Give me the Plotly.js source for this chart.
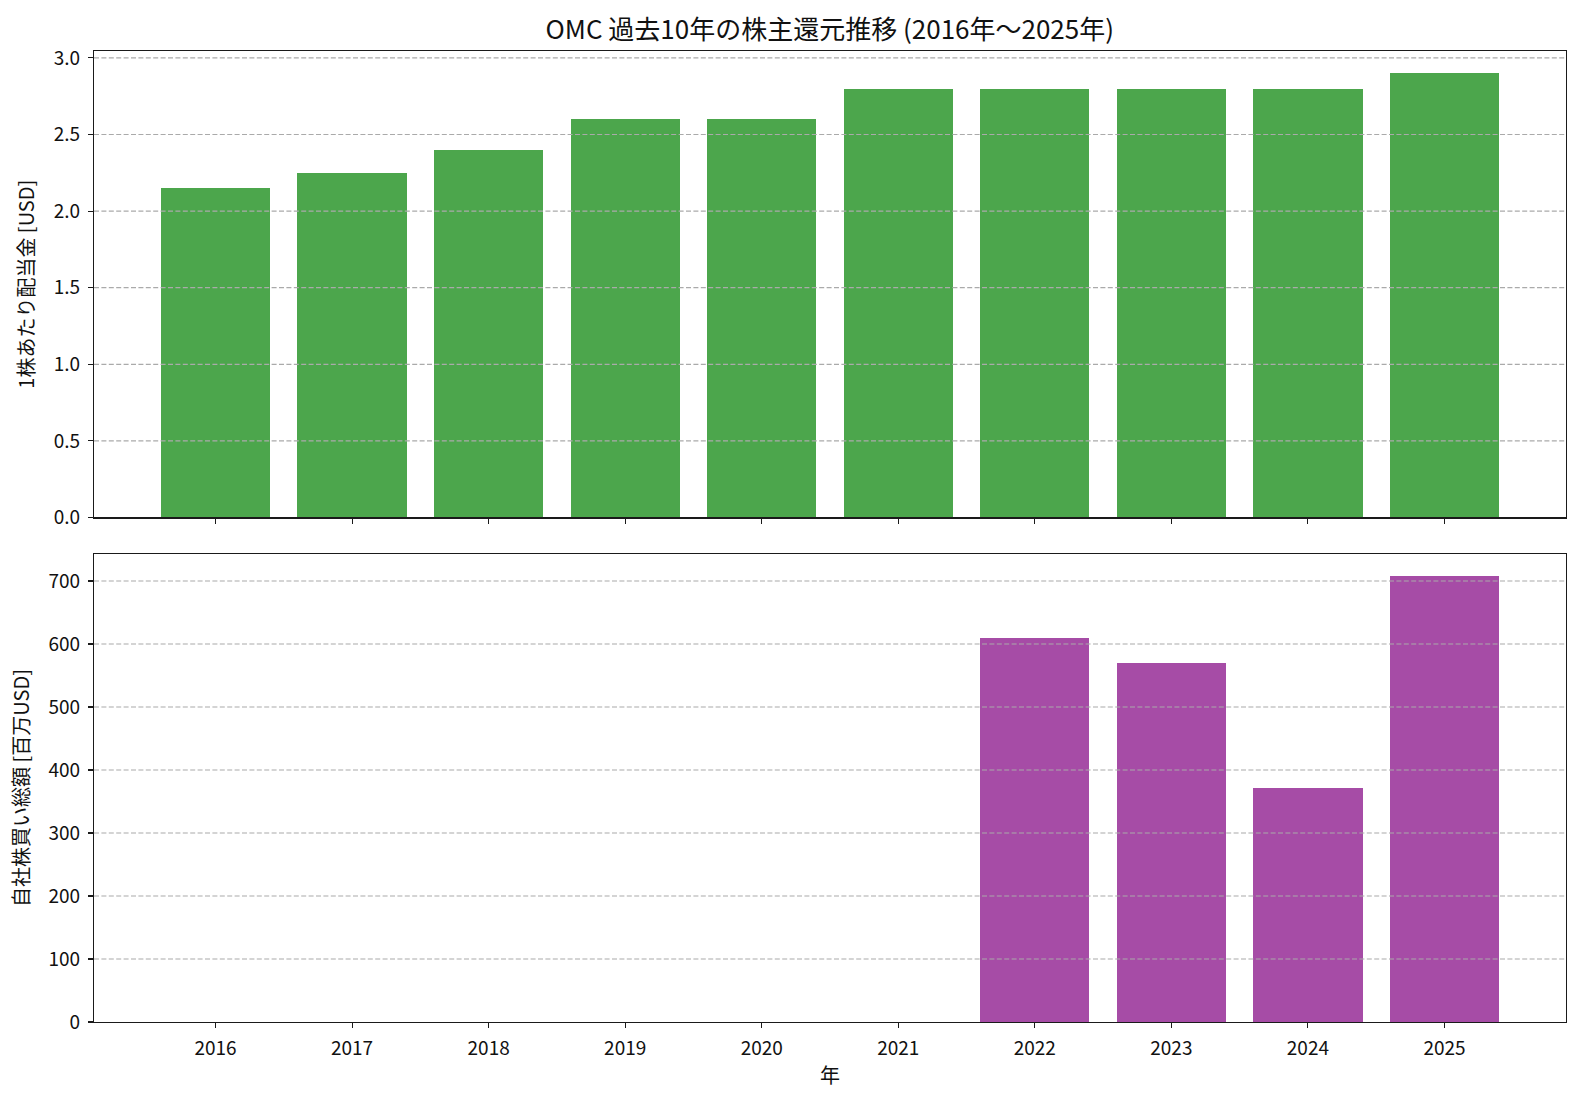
<!DOCTYPE html>
<html>
<head>
<meta charset="utf-8">
<script src="https://cdn.plot.ly/plotly-3.0.1.min.js"></script>
<style>html,body{margin:0;padding:0;background:#fff;}#chart{width:1582px;height:1102px;}</style>
</head>
<body>
<div id="chart"></div>
<script>
// Data
const years = ['2016','2017','2018','2019','2020','2021','2022','2023','2024','2025'];
const dividendPerShare = [2.15, 2.25, 2.40, 2.60, 2.60, 2.80, 2.80, 2.80, 2.80, 2.90];
const buybackTotal = [0, 0, 0, 0, 0, 0, 610, 570, 371, 707.5];
const divTicks = [0, 0.5, 1.0, 1.5, 2.0, 2.5, 3.0];
const buyTicks = [0, 100, 200, 300, 400, 500, 600, 700];

const FONT = '"Noto Sans CJK JP", "Noto Sans", sans-serif';

const traces = [
  {type:'bar', x: years, y: dividendPerShare, xaxis:'x', yaxis:'y',
   marker:{color:'rgba(0,128,0,0.7)'}, width:0.8, hoverinfo:'x+y'},
  {type:'bar', x: years, y: buybackTotal, xaxis:'x2', yaxis:'y2',
   marker:{color:'rgba(128,0,128,0.7)'}, width:0.8, hoverinfo:'x+y'}
];

function gridShapes(ticks, yref, xref){
  return ticks.filter(v => v !== 0).map(v => ({
    type:'line', xref: xref + ' domain', yref: yref, x0:0, x1:1, y0:v, y1:v,
    line:{color:'#aaaaaa', width:1.2, dash:'5px,2.4px'}, layer:'above'
  }));
}

const divMax = Math.max(...dividendPerShare) * 1.05;
const buyMax = Math.max(...buybackTotal) * 1.05;
const xr = [-0.4 - 0.49, years.length - 1 + 0.4 + 0.49];

const common = {
  showline:true, linecolor:'#1a1a1a', linewidth:1.1, mirror:true,
  ticks:'outside', ticklen:5, tickwidth:1.1, tickcolor:'#1a1a1a',
  zeroline:false, tickfont:{family:FONT, size:19, color:'#111'}
};

const layout = {
  width:1582, height:1102,
  paper_bgcolor:'#fff', plot_bgcolor:'#fff',
  margin:{l:94, r:16, t:51, b:80},
  showlegend:false, bargap:0,
  font:{family:FONT, color:'#111'},
  title:{text:'OMC 過去10年の株主還元推移 (2016年～2025年)', x:0.5245, xanchor:'center', y:0.973, yanchor:'middle',
         font:{family:FONT, size:26, color:'#111'}},
  xaxis: Object.assign({}, common, {type:'category', range:xr, domain:[0,1], anchor:'y', showticklabels:false, showgrid:false}),
  yaxis: Object.assign({}, common, {domain:[0.5196,1], anchor:'x', range:[0, divMax], tickvals:divTicks, tickformat:'.1f', showgrid:false,
         ticklabelstandoff:4,
         title:{text:'1株あたり配当金 [USD]', standoff:13, font:{family:FONT, size:20, color:'#111'}}}),
  xaxis2: Object.assign({}, common, {type:'category', range:xr, domain:[0,1], anchor:'y2', showgrid:false,
         ticklabelstandoff:4,
         title:{text:'年', standoff:10, font:{family:FONT, size:20, color:'#111'}}}),
  yaxis2: Object.assign({}, common, {domain:[0,0.482], anchor:'x2', range:[0, buyMax], tickvals:buyTicks, showgrid:false,
         ticklabelstandoff:4,
         title:{text:'自社株買い総額 [百万USD]', standoff:13, font:{family:FONT, size:20, color:'#111'}}}),
  shapes: gridShapes(divTicks, 'y', 'x').concat(gridShapes(buyTicks, 'y2', 'x2'))
};

Plotly.newPlot('chart', traces, layout, {displayModeBar:false, staticPlot:true});
</script>
</body>
</html>
